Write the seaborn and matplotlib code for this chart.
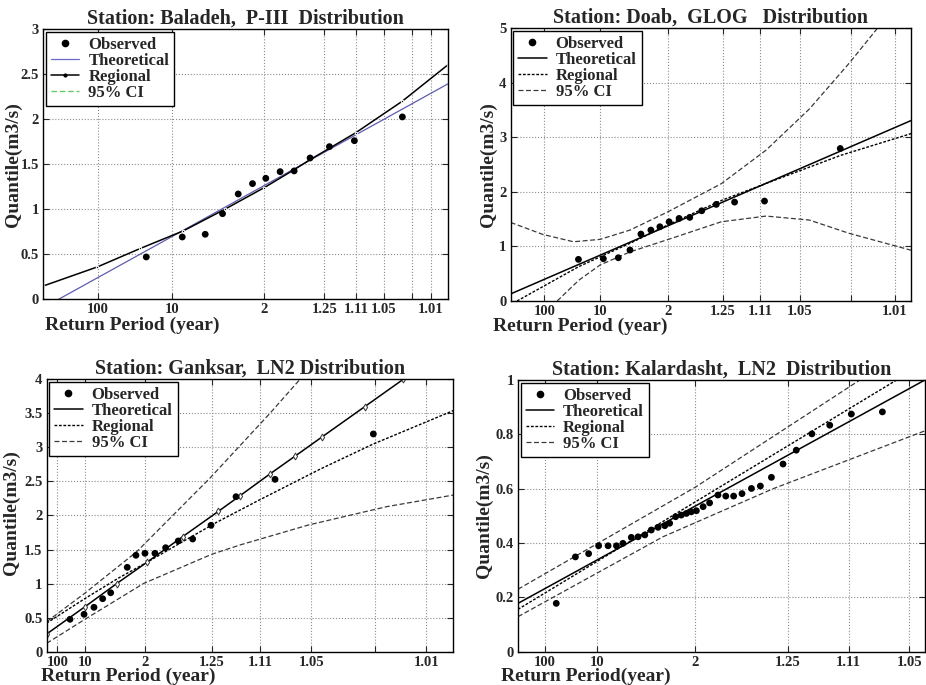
import numpy as np
import pandas as pd
import matplotlib
matplotlib.use("Agg")
import matplotlib.pyplot as plt
import seaborn as sns
from matplotlib.lines import Line2D
from statistics import NormalDist

# ---------------- data ----------------
# return-period tick labels shared by all panels
tick_T = [100, 10, 2, 1.25, 1.11, 1.05, 1.01]
tick_T_labels = ["100", "10", "2", "1.25", "1.11", "1.05", "1.01"]
minor_T = [1.02]
legend_labels = ["Observed", "Theoretical", "Regional", "95% CI"]

# Baladeh (P-III), x in standard-normal reduced variate
bal_obs_x = [-1.648, -1.145, -0.824, -0.582, -0.363, -0.163, 0.023, 0.223, 0.419, 0.642, 0.912, 1.261, 1.932]
bal_obs_y = [0.47, 0.692, 0.722, 0.951, 1.17, 1.285, 1.344, 1.418, 1.426, 1.57, 1.696, 1.762, 2.026]
bal_theo_x = [-2.873, 2.566]
bal_theo_y = [0.0, 2.392]
bal_reg_x = [-3.087, -2.33, -1.73, -1.13, -0.55, 0.0, 0.42, 0.64, 1.28, 1.93, 2.566]
bal_reg_y = [0.148, 0.36, 0.565, 0.76, 1.0, 1.24, 1.44, 1.55, 1.85, 2.2, 2.603]
bal_yticks = [0, 0.5, 1, 1.5, 2, 2.5, 3]

# Doab (GLOG), x in GLOG reduced variate
doa_obs_x = [-2.508, -1.814, -1.397, -1.072, -0.767, -0.489, -0.239, 0.019, 0.297, 0.594, 0.928, 1.333, 1.844, 2.678, 4.789]
doa_obs_y = [0.763, 0.775, 0.793, 0.934, 1.227, 1.30, 1.361, 1.452, 1.514, 1.533, 1.654, 1.771, 1.813, 1.832, 2.796]
doa_theo_x = [-4.397, 6.769]
doa_theo_y = [0.13, 3.31]
doa_reg_x = [-4.22, -2.5, -1.0, 0.0, 1.5, 2.7, 4.8, 6.769]
doa_reg_y = [0.0, 0.63, 1.08, 1.40, 1.85, 2.15, 2.67, 3.07]
doa_ciu_x = [-4.397, -3.5, -2.647, -1.906, -1.072, 0.0, 1.472, 2.722, 3.928, 5.039, 5.825]
doa_ciu_y = [1.44, 1.22, 1.086, 1.13, 1.30, 1.64, 2.15, 2.766, 3.52, 4.36, 5.0]
doa_cil_x = [-3.1, -2.5, -1.906, -1.07, 0.0, 1.472, 2.722, 3.928, 5.039, 6.769]
doa_cil_y = [0.0, 0.38, 0.66, 0.9, 1.13, 1.452, 1.557, 1.484, 1.24, 0.93]
doa_yticks = [0, 1, 2, 3, 4, 5]

# Ganksar (LN2)
gan_obs_x = [0.412, 0.522, 0.60, 0.668, 0.731, 0.861, 0.929, 1.0, 1.078, 1.162, 1.261, 1.374, 1.518, 1.714, 2.02, 2.791]
gan_obs_y = [0.476, 0.549, 0.652, 0.778, 0.866, 1.239, 1.416, 1.445, 1.445, 1.527, 1.626, 1.655, 1.856, 2.276, 2.531, 3.197]
gan_theo_x = [0.229, 0.529, 0.778, 1.013, 1.296, 1.575, 1.745, 1.98, 2.176, 2.386, 2.725, 3.026]
gan_theo_y = [0.26, 0.66, 1.0, 1.31, 1.69, 2.06, 2.29, 2.61, 2.87, 3.15, 3.60, 4.0]
gan_reg_x = [0.229, 0.529, 0.791, 1.013, 1.30, 1.562, 1.889, 2.373, 2.791, 3.418]
gan_reg_y = [0.42, 0.78, 1.08, 1.31, 1.62, 1.90, 2.22, 2.68, 3.05, 3.54]
gan_ciu_x = [0.229, 0.529, 0.935, 1.51, 1.98, 2.216]
gan_ciu_y = [0.44, 0.86, 1.468, 2.55, 3.5, 4.0]
gan_cil_x = [0.229, 0.524, 0.987, 1.523, 1.745, 2.281, 2.896, 3.418]
gan_cil_y = [0.123, 0.47, 1.0, 1.43, 1.567, 1.86, 2.13, 2.30]
gan_yticks = [0, 0.5, 1, 1.5, 2, 2.5, 3, 3.5, 4]

# Kalardasht (LN2)
kal_obs_x = [0.486, 0.557, 0.606, 0.643, 0.678, 0.709, 0.733, 0.764, 0.789, 0.814, 0.838, 0.863,
             0.888, 0.906, 0.928, 0.949, 0.968, 0.986, 1.005, 1.03, 1.054, 1.085, 1.114, 1.143,
             1.174, 1.209, 1.242, 1.283, 1.326, 1.375, 1.433, 1.499, 1.579, 1.694]
kal_obs_y = [0.178, 0.349, 0.361, 0.39, 0.39, 0.39, 0.399, 0.421, 0.423, 0.430, 0.448, 0.458,
             0.464, 0.473, 0.497, 0.503, 0.509, 0.515, 0.519, 0.534, 0.548, 0.577, 0.573, 0.573,
             0.582, 0.601, 0.610, 0.642, 0.691, 0.742, 0.802, 0.834, 0.875, 0.883]
kal_theo_x = [0.3444, 1.8507]
kal_theo_y = [0.178, 1.0]
kal_reg_x = [0.3444, 1.0, 1.746]
kal_reg_y = [0.156, 0.551, 1.0]
kal_ciu_x = [0.3444, 1.0, 1.61]
kal_ciu_y = [0.23, 0.605, 1.0]
kal_cil_x = [0.3444, 0.881, 1.289, 1.8507]
kal_cil_y = [0.129, 0.423, 0.60, 0.813]
kal_yticks = [0, 0.2, 0.4, 0.6, 0.8, 1]

# ---------------- probability-paper scales ----------------
_nd = NormalDist()


def z_of_T(T):
    return _nd.inv_cdf(1.0 / T)


def normal_scale(T):
    return z_of_T(T)


def glog_scale(T, k=-0.13):
    p = 1.0 / T
    u = (1 - p) / p
    return (1 - u ** k) / k


def ln_scale(s):
    return lambda T: float(np.exp(s * z_of_T(T)))


# ---------------- style ----------------
sns.set_style("ticks")
plt.rcParams["font.family"] = ["Liberation Serif", "DejaVu Serif"]
plt.rcParams["font.weight"] = "bold"
plt.rcParams["axes.titleweight"] = "bold"
plt.rcParams["axes.labelweight"] = "bold"
plt.rcParams["axes.edgecolor"] = "black"
plt.rcParams["axes.linewidth"] = 1.0

fig = plt.figure(figsize=(9.26, 6.85), dpi=100)

GRID = dict(linestyle=":", color="#8c8c8c", linewidth=0.8)
CI_STYLE = dict(color="#3a3a3a", linewidth=0.9, linestyle=(0, (4, 2)))
REG_STYLE = dict(color="black", linewidth=1.0, linestyle=(0, (2, 1.2)))
THEO_STYLE = dict(color="black", linewidth=1.1, linestyle="-")


def line(ax, x, y, **kw):
    sns.lineplot(x=x, y=y, ax=ax, sort=False, estimator=None, legend=False, **kw)


def setup_axis(ax, title, xfun, xlim, ylim, yticks, xlab, xlab_pos, ylab_pos):
    major = [(xfun(T), lab) for T, lab in zip(tick_T, tick_T_labels)
             if xlim[0] <= xfun(T) <= xlim[1]]
    ax.set_xticks([m[0] for m in major])
    ax.set_xticklabels([m[1] for m in major])
    minors = [xfun(T) for T in minor_T if xlim[0] < xfun(T) < xlim[1]]
    ax.set_xticks(minors, minor=True)
    ax.set_yticks(yticks)
    ax.set_yticklabels(["{:g}".format(v) for v in yticks])
    ax.set_xlim(*xlim)
    ax.set_ylim(*ylim)
    ax.grid(True, which="major", **GRID)
    ax.grid(True, which="minor", axis="x", **GRID)
    ax.tick_params(which="both", direction="in", top=True, right=True,
                   length=4, width=0.8, labelsize=10.5, pad=3.0)
    for s in ax.spines.values():
        s.set_visible(True)
        s.set_color("black")
    ax.set_title(title, fontsize=14.5, pad=4)
    ax.set_xlabel(xlab, fontsize=14)
    ax.set_ylabel("Quantile(m3/s)", fontsize=14)
    ax.xaxis.set_label_coords(*xlab_pos)
    ax.yaxis.set_label_coords(*ylab_pos)


def add_legend(ax, handles):
    leg = ax.legend(handles=handles, labels=legend_labels, loc="upper left",
                    fontsize=12, frameon=True, fancybox=False, edgecolor="black",
                    framealpha=1, borderaxespad=0.15, borderpad=0.3,
                    labelspacing=0.0, handlelength=1.7, handletextpad=0.55)
    leg.get_frame().set_linewidth(1.0)


def obs_handle():
    return Line2D([], [], ls="none", marker="o", color="black", ms=4.5)


def observed(ax, x, y):
    sns.scatterplot(x=x, y=y, ax=ax, color="black", s=24, edgecolor="none",
                    zorder=5, legend=False)


# ---- Panel 1: Baladeh ----
ax1 = fig.add_axes([0.0468, 0.5631, 0.4367, 0.3942])
line(ax1, bal_theo_x, bal_theo_y, color="#5c5cb0", linewidth=0.9)
line(ax1, bal_reg_x, bal_reg_y, color="black", linewidth=1.1, marker=".",
     markersize=3.5)
observed(ax1, bal_obs_x, bal_obs_y)
setup_axis(ax1, "Station: Baladeh,  P-III  Distribution", normal_scale,
           (-3.087, 2.566), (0, 3), bal_yticks, "Return Period (year)",
           (0.22, -0.064), (-0.054, 0.5))
add_legend(ax1, [obs_handle(),
                 Line2D([], [], color="#6a6ac8", lw=0.9),
                 Line2D([], [], color="black", lw=1.1, marker=".", ms=4),
                 Line2D([], [], color="#66cc66", lw=1.0, ls=(0, (4, 2)))])

# ---- Panel 2: Doab ----
ax2 = fig.add_axes([0.5515, 0.5606, 0.4326, 0.3981])
line(ax2, doa_ciu_x, doa_ciu_y, **CI_STYLE)
line(ax2, doa_cil_x, doa_cil_y, **CI_STYLE)
line(ax2, doa_reg_x, doa_reg_y, **REG_STYLE)
line(ax2, doa_theo_x, doa_theo_y, **THEO_STYLE)
observed(ax2, doa_obs_x, doa_obs_y)
setup_axis(ax2, "Station: Doab,  GLOG   Distribution", glog_scale,
           (-4.397, 6.769), (0, 5), doa_yticks, "Return Period (year)",
           (0.174, -0.060), (-0.035, 0.5))
add_legend(ax2, [obs_handle(), Line2D([], [], **THEO_STYLE),
                 Line2D([], [], **REG_STYLE), Line2D([], [], **CI_STYLE)])

# ---- Panel 3: Ganksar ----
ax3 = fig.add_axes([0.0504, 0.0486, 0.4391, 0.3977])
line(ax3, gan_ciu_x, gan_ciu_y, **CI_STYLE)
line(ax3, gan_cil_x, gan_cil_y, **CI_STYLE)
line(ax3, gan_reg_x, gan_reg_y, **REG_STYLE)
line(ax3, gan_theo_x, gan_theo_y, marker="d", markersize=3.5,
     markerfacecolor="white", markeredgecolor="#333333", markeredgewidth=0.7,
     **THEO_STYLE)
observed(ax3, gan_obs_x, gan_obs_y)
setup_axis(ax3, "Station: Ganksar,  LN2 Distribution", ln_scale(0.5),
           (0.229, 3.418), (0, 4), gan_yticks, "Return Period (year)",
           (0.201, -0.060), (-0.065, 0.51))
add_legend(ax3, [obs_handle(), Line2D([], [], **THEO_STYLE),
                 Line2D([], [], **REG_STYLE), Line2D([], [], **CI_STYLE)])

# ---- Panel 4: Kalardasht ----
ax4 = fig.add_axes([0.5594, 0.0486, 0.4392, 0.3965])
line(ax4, kal_ciu_x, kal_ciu_y, **CI_STYLE)
line(ax4, kal_cil_x, kal_cil_y, **CI_STYLE)
line(ax4, kal_reg_x, kal_reg_y, **REG_STYLE)
line(ax4, kal_theo_x, kal_theo_y, **THEO_STYLE)
observed(ax4, kal_obs_x, kal_obs_y)
setup_axis(ax4, "Station: Kalardasht,  LN2  Distribution", ln_scale(0.35),
           (0.3444, 1.8507), (0, 1), kal_yticks, "Return Period(year)",
           (0.166, -0.060), (-0.061, 0.5))
add_legend(ax4, [obs_handle(), Line2D([], [], **THEO_STYLE),
                 Line2D([], [], **REG_STYLE), Line2D([], [], **CI_STYLE)])

fig.savefig("out.png", dpi=100)
